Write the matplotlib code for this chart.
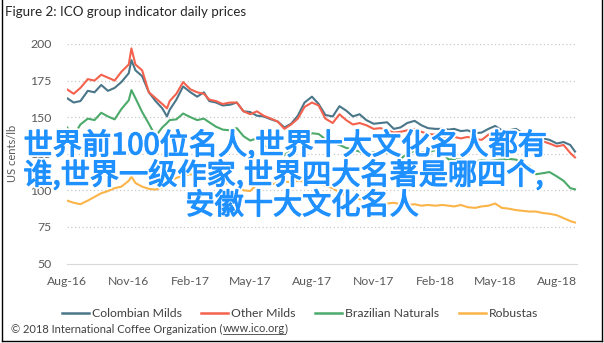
import matplotlib

matplotlib.use("Agg")
import matplotlib.dates as mdates
import matplotlib.patheffects as pe
import matplotlib.pyplot as plt
import pandas as pd
from matplotlib.lines import Line2D

# ICO group indicator prices (US cents/lb)
dates = [
    "2016-08-01", "2016-08-11", "2016-08-21", "2016-09-01", "2016-09-11", "2016-09-21",
    "2016-10-01", "2016-10-11", "2016-10-21", "2016-11-01", "2016-11-05", "2016-11-11",
    "2016-11-21", "2016-12-01", "2016-12-11", "2016-12-21", "2016-12-28", "2017-01-01",
    "2017-01-11", "2017-01-21", "2017-02-01", "2017-02-11", "2017-02-21", "2017-03-01",
    "2017-03-11", "2017-03-21", "2017-04-01", "2017-04-11", "2017-04-21", "2017-05-01",
    "2017-05-11", "2017-05-21", "2017-06-01", "2017-06-11", "2017-06-21", "2017-07-01",
    "2017-07-11", "2017-07-21", "2017-08-01", "2017-08-11", "2017-08-21", "2017-09-01",
    "2017-09-11", "2017-09-21", "2017-10-01", "2017-10-11", "2017-10-21", "2017-11-01",
    "2017-11-11", "2017-11-21", "2017-12-01", "2017-12-11", "2017-12-21", "2018-01-01",
    "2018-01-11", "2018-01-21", "2018-02-01", "2018-02-11", "2018-02-21", "2018-03-01",
    "2018-03-11", "2018-03-21", "2018-04-01", "2018-04-11", "2018-04-21", "2018-05-01",
    "2018-05-11", "2018-05-21", "2018-06-01", "2018-06-11", "2018-06-21", "2018-07-01",
    "2018-07-11", "2018-07-21", "2018-08-01", "2018-08-11", "2018-08-21", "2018-08-28",
]
colombian = [
    163, 160, 161, 168, 167, 172, 168, 170, 174, 180, 189, 182,
    178, 167, 161, 156, 150.5, 155, 162, 171, 167, 164, 167, 161,
    160, 158, 158.5, 160, 154, 153.5, 151, 150.5, 148.5, 147, 143, 145.5,
    151, 160, 164, 159, 151.5, 150.5, 157.5, 154.5, 150.5, 152, 148, 145.5,
    146, 146.5, 142, 143, 146, 147.5, 144.5, 142.5, 142, 142, 141.5, 142,
    140.5, 141, 139, 139.5, 142, 144, 141, 141, 142, 139, 135.5, 134.5,
    135.5, 134.5, 132, 133, 131, 126.5,
]
other_milds = [
    169, 166, 170, 176, 175, 179, 177, 175, 181, 186, 197, 186,
    182, 167, 163, 159, 156, 161, 166, 174, 169, 167, 166, 162,
    161, 159, 160, 160, 154, 152, 154, 151, 149, 147, 142, 145,
    149, 157, 160, 158, 149, 146, 152, 148, 145, 146, 144.5, 142,
    142.5, 141, 139.5, 140, 141, 142, 140, 138.5, 138, 137, 136.5, 136.5,
    135.5, 136.5, 135, 134.5, 138, 141, 138, 138.5, 138, 136.5, 133.5, 132,
    133.5, 132, 130, 131, 125.5, 122.5,
]
brazilian = [
    143, 137.5, 145, 149, 148, 153, 150.5, 148.5, 155.5, 161.5, 168.5, 163,
    153.5, 145.5, 137, 143, 146, 148, 148.5, 152.5, 150, 148, 149, 146.5,
    143.5, 141.5, 141, 142.5, 137, 134, 135.5, 131, 128, 126, 124, 127.5,
    131.5, 135.5, 139, 138.5, 135, 132.5, 131, 129, 128, 126.5, 124.5, 126,
    125, 126, 124, 121.5, 125, 127, 126, 126, 127.5, 125.5, 121, 121.5,
    121, 120.5, 119.8, 120.5, 120, 120.5, 121, 121.5, 121, 118.5, 116.5, 111,
    111.7, 112.5, 109.5, 106.5, 101.5, 100.7,
]
robustas = [
    93, 91.5, 90.5, 93, 95.5, 98, 99.5, 101.5, 102.5, 106.5, 109.5, 105,
    102.5, 101, 100.5, 102, 104, 106, 108.5, 110, 111, 110, 108.5, 107,
    105.5, 104.5, 105, 104, 100, 99.5, 104, 104.5, 104, 105, 106, 105.5,
    106.5, 106, 105.5, 105, 103, 101.5, 98.5, 96.5, 95, 94, 93.5, 92.5,
    91.5, 91, 91.5, 90.5, 90, 90.5, 89.5, 90, 89.5, 90, 89.5, 89,
    90, 88.5, 88, 89, 89.5, 91, 88, 87.5, 86.5, 86, 85.5, 85.5,
    84.5, 84, 83, 81, 79, 78,
]
series_names = ["Colombian Milds", "Other Milds", "Brazilian Naturals", "Robustas"]
series_colors = ["#4a7689", "#f4614d", "#4caa6b", "#fbb448"]
y_ticks = [50, 75, 100, 125, 150, 175, 200]

overlay_lines = [
    "世界前100位名人,世界十大文化名人都有",
    "谁,世界一级作家,世界四大名著是哪四个,",
    "安徽十大文化名人",
]

x = pd.to_datetime(dates)
TXT = "#404040"
BLUE = "#1e90ff"
plt.rcParams["font.family"] = ["Lato", "DejaVu Sans"]

fig = plt.figure(figsize=(6.04, 3.43), dpi=100)
ax = fig.add_axes([67 / 604, 1 - 263.5 / 343, 510 / 604, 219.5 / 343])

for vals, name, color in zip([colombian, other_milds, brazilian, robustas],
                             series_names, series_colors):
    ax.plot(x, vals, color=color, lw=1.5, label=name, zorder=3)

ax.set_ylim(50, 200)
ax.set_yticks(y_ticks)
ax.set_xlim(pd.Timestamp("2016-08-01"), pd.Timestamp("2018-08-31"))
ax.xaxis.set_major_locator(mdates.MonthLocator(bymonth=[2, 5, 8, 11]))
ax.xaxis.set_major_formatter(mdates.DateFormatter("%b-%y"))
ax.tick_params(length=0, labelsize=8.8, labelcolor="#595959")
ax.tick_params(axis="y", pad=11)
ax.tick_params(axis="x", pad=9)
for yv in y_ticks[1:]:
    ax.axhline(yv, color="#c8c8c8", lw=0.9, ls=(0, (1, 2)), zorder=1)
for s in ["top", "right", "left"]:
    ax.spines[s].set_visible(False)
ax.spines["bottom"].set_color("#d9d9d9")
ax.set_ylabel("US cents/lb", fontsize=8, color="#595959", labelpad=9)

fig.text(5 / 604, 1 - 12.5 / 343, "Figure 2: ICO group indicator daily prices",
         fontsize=9.6, color="#262626", va="center")

handles = [Line2D([], [], color=c, lw=1.8) for c in series_colors]
fig.legend(handles, series_names, loc="center", bbox_to_anchor=(300 / 604, 1 - 313.5 / 343),
           ncol=4, frameon=False, fontsize=8.8, handlelength=2.2, handletextpad=0.25,
           columnspacing=1.6, labelcolor=TXT)

# footer, with the link underlined
rend = fig.canvas.get_renderer()
fy = 1 - 329 / 343
fs = 8
t1 = fig.text(11 / 604, fy, "© 2018 International Coffee Organization (", fontsize=fs,
              color=TXT, va="center")
bb = t1.get_window_extent(renderer=rend)
t2 = fig.text(bb.x1 / 604, fy, "www.ico.org", fontsize=fs, color=TXT, va="center")
bb2 = t2.get_window_extent(renderer=rend)
fig.text(bb2.x1 / 604, fy, ")", fontsize=fs, color=TXT, va="center")
fig.add_artist(Line2D([bb2.x0 / 604, bb2.x1 / 604], [(bb2.y0 + 1) / 343] * 2,
                      color=TXT, lw=0.6))

# outer frame
for xs, ys in [([1.5, 1.5], [0, 341]), ([601.5, 601.5], [0, 341]), ([1.5, 601.5], [341, 341])]:
    fig.add_artist(Line2D([v / 604 for v in xs], [1 - v / 343 for v in ys],
                          color="black", lw=1.0))

# blue overlay text (regular weight thickened a little by a thin blue stroke)
effects = [pe.Stroke(linewidth=3.5, foreground="white"),
           pe.Stroke(linewidth=0.9, foreground=BLUE), pe.Normal()]
for txt, cx, cy in zip(overlay_lines, [285, 283, 302], [146, 176, 206]):
    fig.text(cx / 604, 1 - cy / 343, txt, fontsize=21, color=BLUE,
             ha="center", va="center", zorder=10,
             family=["Noto Sans CJK SC", "DejaVu Sans"], path_effects=effects)

fig.savefig("out.png", dpi=100)
